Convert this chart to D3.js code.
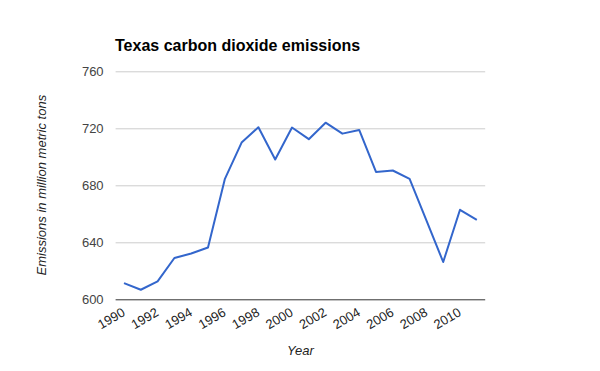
<!DOCTYPE html>
<html>
<head>
<meta charset="utf-8">
<script src="https://cdn.jsdelivr.net/npm/d3@7"></script>
<style>
  body { margin: 0; background: #fff; }
  svg { font-family: Arial, "Liberation Sans", sans-serif; }
</style>
</head>
<body>
<div id="chart"></div>
<script>
var years = [1990, 1991, 1992, 1993, 1994, 1995, 1996, 1997, 1998, 1999, 2000,
             2001, 2002, 2003, 2004, 2005, 2006, 2007, 2008, 2009, 2010, 2011];
var emissions = [611.2, 606.5, 612.4, 628.8, 632.0, 636.2, 684.2, 709.9, 720.7, 698.0, 720.5,
                 712.3, 723.9, 716.2, 718.8, 689.3, 690.3, 684.4, 655.3, 626.0, 662.7, 655.6];
var yTicks = [600, 640, 680, 720, 760];
var xTickYears = [1990, 1992, 1994, 1996, 1998, 2000, 2002, 2004, 2006, 2008, 2010];

var svgWidth = 600;
var svgHeight = 371;
var margin = { top: 71.3, right: 114.8, bottom: 72, left: 115.6 };
var width = svgWidth - margin.left - margin.right;
var height = svgHeight - margin.top - margin.bottom;

var data = years.map((y, i) => ({ year: y, value: emissions[i] }));

var svg = d3.select("#chart")
  .append("svg")
  .attr("width", svgWidth)
  .attr("height", svgHeight);

// title
svg.append("text")
  .attr("x", 115)
  .attr("y", 51)
  .attr("font-size", "16px")
  .attr("font-weight", "bold")
  .attr("fill", "#000")
  .text("Texas carbon dioxide emissions");

var chartGroup = svg.append("g")
  .attr("transform", `translate(${margin.left}, ${margin.top})`);

var xScale = d3.scaleBand()
  .domain(years)
  .range([0, width]);

var yScale = d3.scaleLinear()
  .domain([600, 760])
  .range([height, 0]);

var xPos = d => xScale(d) + xScale.bandwidth() / 2;

// gridlines
chartGroup.selectAll(".grid")
  .data(yTicks.filter(t => t !== 600))
  .enter()
  .append("line")
  .attr("x1", 0)
  .attr("x2", width)
  .attr("y1", d => Math.round(yScale(d)) + 0.5)
  .attr("y2", d => Math.round(yScale(d)) + 0.5)
  .attr("stroke", "#cccccc")
  .attr("stroke-width", 1);

// y tick labels
chartGroup.selectAll(".ylab")
  .data(yTicks)
  .enter()
  .append("text")
  .attr("x", -12)
  .attr("y", d => yScale(d))
  .attr("dy", "0.35em")
  .attr("text-anchor", "end")
  .attr("font-size", "13px")
  .attr("fill", "#444")
  .text(d => d);

// line
var line = d3.line()
  .x(d => xPos(d.year))
  .y(d => yScale(d.value));

chartGroup.append("path")
  .datum(data)
  .attr("fill", "none")
  .attr("stroke", "#3366cc")
  .attr("stroke-width", 2)
  .attr("stroke-linejoin", "round")
  .attr("d", line);

// baseline
chartGroup.append("line")
  .attr("x1", 0)
  .attr("x2", width)
  .attr("y1", Math.round(yScale(600)) + 0.5)
  .attr("y2", Math.round(yScale(600)) + 0.5)
  .attr("stroke", "#333")
  .attr("stroke-width", 1);

// x tick labels, rotated
chartGroup.selectAll(".xlab")
  .data(xTickYears)
  .enter()
  .append("text")
  .attr("transform", d => `translate(${xPos(d) + 2}, ${height + 16}) rotate(-30)`)
  .attr("text-anchor", "end")
  .attr("font-size", "13px")
  .attr("fill", "#222")
  .text(d => d);

// axis titles
chartGroup.append("text")
  .attr("x", width / 2)
  .attr("y", height + 56)
  .attr("text-anchor", "middle")
  .attr("font-size", "13px")
  .attr("font-style", "italic")
  .attr("fill", "#222")
  .text("Year");

svg.append("text")
  .attr("transform", `translate(46, ${margin.top + height / 2}) rotate(-90)`)
  .attr("text-anchor", "middle")
  .attr("font-size", "13px")
  .attr("font-style", "italic")
  .attr("fill", "#222")
  .text("Emissions in million metric tons");
</script>
</body>
</html>
